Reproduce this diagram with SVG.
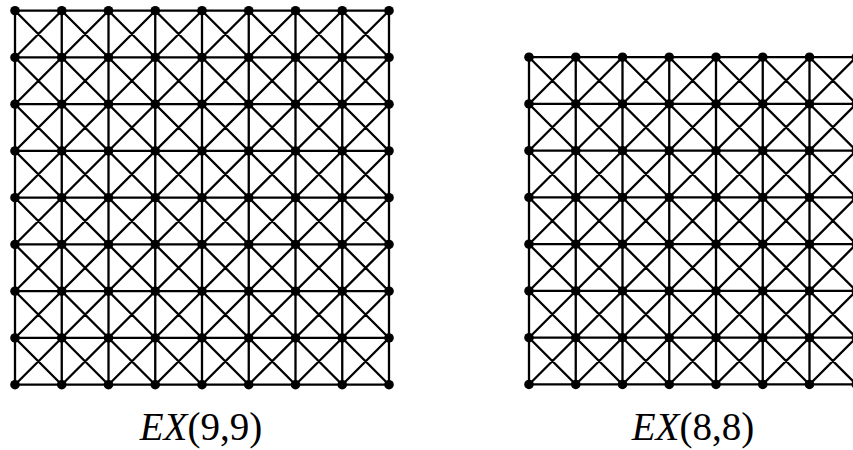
<svg xmlns="http://www.w3.org/2000/svg" width="853" height="450" viewBox="0 0 853 450">
<style>
.e{fill:none;stroke:#000;stroke-width:2.3;stroke-linecap:round}
.n{fill:#000}
.lbl{font-family:"Liberation Serif","Times New Roman",serif;font-size:39px;fill:#000;text-anchor:middle}
</style>
<rect width="853" height="450" fill="#fff"/>
<g id="connectors">
<path class="e" transform="translate(15,10.7)" d="M0 0H374M0 46.75H374M0 93.5H374M0 140.25H374M0 187H374M0 233.75H374M0 280.5H374M0 327.25H374M0 374H374M0 0V374M46.75 0V374M93.5 0V374M140.25 0V374M187 0V374M233.75 0V374M280.5 0V374M327.25 0V374M374 0V374M0 0L374 374M0 46.75L327.25 374M0 93.5L280.5 374M0 140.25L233.75 374M0 187L187 374M0 233.75L140.25 374M0 280.5L93.5 374M0 327.25L46.75 374M46.75 0L374 327.25M93.5 0L374 280.5M140.25 0L374 233.75M187 0L374 187M233.75 0L374 140.25M280.5 0L374 93.5M327.25 0L374 46.75M0 46.75L46.75 0M0 93.5L93.5 0M0 140.25L140.25 0M0 187L187 0M0 233.75L233.75 0M0 280.5L280.5 0M0 327.25L327.25 0M0 374L374 0M46.75 374L374 46.75M93.5 374L374 93.5M140.25 374L374 140.25M187 374L374 187M233.75 374L374 233.75M280.5 374L374 280.5M327.25 374L374 327.25"/>
<path class="e" transform="translate(529,57.2)" d="M0 0H327.25M0 46.75H327.25M0 93.5H327.25M0 140.25H327.25M0 187H327.25M0 233.75H327.25M0 280.5H327.25M0 327.25H327.25M0 0V327.25M46.75 0V327.25M93.5 0V327.25M140.25 0V327.25M187 0V327.25M233.75 0V327.25M280.5 0V327.25M327.25 0V327.25M0 0L327.25 327.25M0 46.75L280.5 327.25M0 93.5L233.75 327.25M0 140.25L187 327.25M0 187L140.25 327.25M0 233.75L93.5 327.25M0 280.5L46.75 327.25M46.75 0L327.25 280.5M93.5 0L327.25 233.75M140.25 0L327.25 187M187 0L327.25 140.25M233.75 0L327.25 93.5M280.5 0L327.25 46.75M0 46.75L46.75 0M0 93.5L93.5 0M0 140.25L140.25 0M0 187L187 0M0 233.75L233.75 0M0 280.5L280.5 0M0 327.25L327.25 0M46.75 327.25L327.25 46.75M93.5 327.25L327.25 93.5M140.25 327.25L327.25 140.25M187 327.25L327.25 187M233.75 327.25L327.25 233.75M280.5 327.25L327.25 280.5"/>
</g>
<g id="grid-9x9" transform="translate(15,10.7)" class="n">
<g id="a0-0"><circle cx="0" cy="0" r="4.8"/></g><g id="a1-0"><circle cx="46.75" cy="0" r="4.8"/></g><g id="a2-0"><circle cx="93.5" cy="0" r="4.8"/></g><g id="a3-0"><circle cx="140.25" cy="0" r="4.8"/></g><g id="a4-0"><circle cx="187" cy="0" r="4.8"/></g><g id="a5-0"><circle cx="233.75" cy="0" r="4.8"/></g><g id="a6-0"><circle cx="280.5" cy="0" r="4.8"/></g><g id="a7-0"><circle cx="327.25" cy="0" r="4.8"/></g><g id="a8-0"><circle cx="374" cy="0" r="4.8"/></g>
<g id="a0-1"><circle cx="0" cy="46.75" r="4.8"/></g><g id="a1-1"><circle cx="46.75" cy="46.75" r="4.8"/></g><g id="a2-1"><circle cx="93.5" cy="46.75" r="4.8"/></g><g id="a3-1"><circle cx="140.25" cy="46.75" r="4.8"/></g><g id="a4-1"><circle cx="187" cy="46.75" r="4.8"/></g><g id="a5-1"><circle cx="233.75" cy="46.75" r="4.8"/></g><g id="a6-1"><circle cx="280.5" cy="46.75" r="4.8"/></g><g id="a7-1"><circle cx="327.25" cy="46.75" r="4.8"/></g><g id="a8-1"><circle cx="374" cy="46.75" r="4.8"/></g>
<g id="a0-2"><circle cx="0" cy="93.5" r="4.8"/></g><g id="a1-2"><circle cx="46.75" cy="93.5" r="4.8"/></g><g id="a2-2"><circle cx="93.5" cy="93.5" r="4.8"/></g><g id="a3-2"><circle cx="140.25" cy="93.5" r="4.8"/></g><g id="a4-2"><circle cx="187" cy="93.5" r="4.8"/></g><g id="a5-2"><circle cx="233.75" cy="93.5" r="4.8"/></g><g id="a6-2"><circle cx="280.5" cy="93.5" r="4.8"/></g><g id="a7-2"><circle cx="327.25" cy="93.5" r="4.8"/></g><g id="a8-2"><circle cx="374" cy="93.5" r="4.8"/></g>
<g id="a0-3"><circle cx="0" cy="140.25" r="4.8"/></g><g id="a1-3"><circle cx="46.75" cy="140.25" r="4.8"/></g><g id="a2-3"><circle cx="93.5" cy="140.25" r="4.8"/></g><g id="a3-3"><circle cx="140.25" cy="140.25" r="4.8"/></g><g id="a4-3"><circle cx="187" cy="140.25" r="4.8"/></g><g id="a5-3"><circle cx="233.75" cy="140.25" r="4.8"/></g><g id="a6-3"><circle cx="280.5" cy="140.25" r="4.8"/></g><g id="a7-3"><circle cx="327.25" cy="140.25" r="4.8"/></g><g id="a8-3"><circle cx="374" cy="140.25" r="4.8"/></g>
<g id="a0-4"><circle cx="0" cy="187" r="4.8"/></g><g id="a1-4"><circle cx="46.75" cy="187" r="4.8"/></g><g id="a2-4"><circle cx="93.5" cy="187" r="4.8"/></g><g id="a3-4"><circle cx="140.25" cy="187" r="4.8"/></g><g id="a4-4"><circle cx="187" cy="187" r="4.8"/></g><g id="a5-4"><circle cx="233.75" cy="187" r="4.8"/></g><g id="a6-4"><circle cx="280.5" cy="187" r="4.8"/></g><g id="a7-4"><circle cx="327.25" cy="187" r="4.8"/></g><g id="a8-4"><circle cx="374" cy="187" r="4.8"/></g>
<g id="a0-5"><circle cx="0" cy="233.75" r="4.8"/></g><g id="a1-5"><circle cx="46.75" cy="233.75" r="4.8"/></g><g id="a2-5"><circle cx="93.5" cy="233.75" r="4.8"/></g><g id="a3-5"><circle cx="140.25" cy="233.75" r="4.8"/></g><g id="a4-5"><circle cx="187" cy="233.75" r="4.8"/></g><g id="a5-5"><circle cx="233.75" cy="233.75" r="4.8"/></g><g id="a6-5"><circle cx="280.5" cy="233.75" r="4.8"/></g><g id="a7-5"><circle cx="327.25" cy="233.75" r="4.8"/></g><g id="a8-5"><circle cx="374" cy="233.75" r="4.8"/></g>
<g id="a0-6"><circle cx="0" cy="280.5" r="4.8"/></g><g id="a1-6"><circle cx="46.75" cy="280.5" r="4.8"/></g><g id="a2-6"><circle cx="93.5" cy="280.5" r="4.8"/></g><g id="a3-6"><circle cx="140.25" cy="280.5" r="4.8"/></g><g id="a4-6"><circle cx="187" cy="280.5" r="4.8"/></g><g id="a5-6"><circle cx="233.75" cy="280.5" r="4.8"/></g><g id="a6-6"><circle cx="280.5" cy="280.5" r="4.8"/></g><g id="a7-6"><circle cx="327.25" cy="280.5" r="4.8"/></g><g id="a8-6"><circle cx="374" cy="280.5" r="4.8"/></g>
<g id="a0-7"><circle cx="0" cy="327.25" r="4.8"/></g><g id="a1-7"><circle cx="46.75" cy="327.25" r="4.8"/></g><g id="a2-7"><circle cx="93.5" cy="327.25" r="4.8"/></g><g id="a3-7"><circle cx="140.25" cy="327.25" r="4.8"/></g><g id="a4-7"><circle cx="187" cy="327.25" r="4.8"/></g><g id="a5-7"><circle cx="233.75" cy="327.25" r="4.8"/></g><g id="a6-7"><circle cx="280.5" cy="327.25" r="4.8"/></g><g id="a7-7"><circle cx="327.25" cy="327.25" r="4.8"/></g><g id="a8-7"><circle cx="374" cy="327.25" r="4.8"/></g>
<g id="a0-8"><circle cx="0" cy="374" r="4.8"/></g><g id="a1-8"><circle cx="46.75" cy="374" r="4.8"/></g><g id="a2-8"><circle cx="93.5" cy="374" r="4.8"/></g><g id="a3-8"><circle cx="140.25" cy="374" r="4.8"/></g><g id="a4-8"><circle cx="187" cy="374" r="4.8"/></g><g id="a5-8"><circle cx="233.75" cy="374" r="4.8"/></g><g id="a6-8"><circle cx="280.5" cy="374" r="4.8"/></g><g id="a7-8"><circle cx="327.25" cy="374" r="4.8"/></g><g id="a8-8"><circle cx="374" cy="374" r="4.8"/></g>
</g>
<g id="grid-8x8" transform="translate(529,57.2)" class="n">
<g id="b0-0"><circle cx="0" cy="0" r="4.8"/></g><g id="b1-0"><circle cx="46.75" cy="0" r="4.8"/></g><g id="b2-0"><circle cx="93.5" cy="0" r="4.8"/></g><g id="b3-0"><circle cx="140.25" cy="0" r="4.8"/></g><g id="b4-0"><circle cx="187" cy="0" r="4.8"/></g><g id="b5-0"><circle cx="233.75" cy="0" r="4.8"/></g><g id="b6-0"><circle cx="280.5" cy="0" r="4.8"/></g><g id="b7-0"><circle cx="327.25" cy="0" r="4.8"/></g>
<g id="b0-1"><circle cx="0" cy="46.75" r="4.8"/></g><g id="b1-1"><circle cx="46.75" cy="46.75" r="4.8"/></g><g id="b2-1"><circle cx="93.5" cy="46.75" r="4.8"/></g><g id="b3-1"><circle cx="140.25" cy="46.75" r="4.8"/></g><g id="b4-1"><circle cx="187" cy="46.75" r="4.8"/></g><g id="b5-1"><circle cx="233.75" cy="46.75" r="4.8"/></g><g id="b6-1"><circle cx="280.5" cy="46.75" r="4.8"/></g><g id="b7-1"><circle cx="327.25" cy="46.75" r="4.8"/></g>
<g id="b0-2"><circle cx="0" cy="93.5" r="4.8"/></g><g id="b1-2"><circle cx="46.75" cy="93.5" r="4.8"/></g><g id="b2-2"><circle cx="93.5" cy="93.5" r="4.8"/></g><g id="b3-2"><circle cx="140.25" cy="93.5" r="4.8"/></g><g id="b4-2"><circle cx="187" cy="93.5" r="4.8"/></g><g id="b5-2"><circle cx="233.75" cy="93.5" r="4.8"/></g><g id="b6-2"><circle cx="280.5" cy="93.5" r="4.8"/></g><g id="b7-2"><circle cx="327.25" cy="93.5" r="4.8"/></g>
<g id="b0-3"><circle cx="0" cy="140.25" r="4.8"/></g><g id="b1-3"><circle cx="46.75" cy="140.25" r="4.8"/></g><g id="b2-3"><circle cx="93.5" cy="140.25" r="4.8"/></g><g id="b3-3"><circle cx="140.25" cy="140.25" r="4.8"/></g><g id="b4-3"><circle cx="187" cy="140.25" r="4.8"/></g><g id="b5-3"><circle cx="233.75" cy="140.25" r="4.8"/></g><g id="b6-3"><circle cx="280.5" cy="140.25" r="4.8"/></g><g id="b7-3"><circle cx="327.25" cy="140.25" r="4.8"/></g>
<g id="b0-4"><circle cx="0" cy="187" r="4.8"/></g><g id="b1-4"><circle cx="46.75" cy="187" r="4.8"/></g><g id="b2-4"><circle cx="93.5" cy="187" r="4.8"/></g><g id="b3-4"><circle cx="140.25" cy="187" r="4.8"/></g><g id="b4-4"><circle cx="187" cy="187" r="4.8"/></g><g id="b5-4"><circle cx="233.75" cy="187" r="4.8"/></g><g id="b6-4"><circle cx="280.5" cy="187" r="4.8"/></g><g id="b7-4"><circle cx="327.25" cy="187" r="4.8"/></g>
<g id="b0-5"><circle cx="0" cy="233.75" r="4.8"/></g><g id="b1-5"><circle cx="46.75" cy="233.75" r="4.8"/></g><g id="b2-5"><circle cx="93.5" cy="233.75" r="4.8"/></g><g id="b3-5"><circle cx="140.25" cy="233.75" r="4.8"/></g><g id="b4-5"><circle cx="187" cy="233.75" r="4.8"/></g><g id="b5-5"><circle cx="233.75" cy="233.75" r="4.8"/></g><g id="b6-5"><circle cx="280.5" cy="233.75" r="4.8"/></g><g id="b7-5"><circle cx="327.25" cy="233.75" r="4.8"/></g>
<g id="b0-6"><circle cx="0" cy="280.5" r="4.8"/></g><g id="b1-6"><circle cx="46.75" cy="280.5" r="4.8"/></g><g id="b2-6"><circle cx="93.5" cy="280.5" r="4.8"/></g><g id="b3-6"><circle cx="140.25" cy="280.5" r="4.8"/></g><g id="b4-6"><circle cx="187" cy="280.5" r="4.8"/></g><g id="b5-6"><circle cx="233.75" cy="280.5" r="4.8"/></g><g id="b6-6"><circle cx="280.5" cy="280.5" r="4.8"/></g><g id="b7-6"><circle cx="327.25" cy="280.5" r="4.8"/></g>
<g id="b0-7"><circle cx="0" cy="327.25" r="4.8"/></g><g id="b1-7"><circle cx="46.75" cy="327.25" r="4.8"/></g><g id="b2-7"><circle cx="93.5" cy="327.25" r="4.8"/></g><g id="b3-7"><circle cx="140.25" cy="327.25" r="4.8"/></g><g id="b4-7"><circle cx="187" cy="327.25" r="4.8"/></g><g id="b5-7"><circle cx="233.75" cy="327.25" r="4.8"/></g><g id="b6-7"><circle cx="280.5" cy="327.25" r="4.8"/></g><g id="b7-7"><circle cx="327.25" cy="327.25" r="4.8"/></g>
</g>
<g id="label-left"><text class="lbl" x="201" y="440"><tspan font-style="italic">EX</tspan>(9,9)</text></g>
<g id="label-right"><text class="lbl" x="693" y="440"><tspan font-style="italic">EX</tspan>(8,8)</text></g>
</svg>
